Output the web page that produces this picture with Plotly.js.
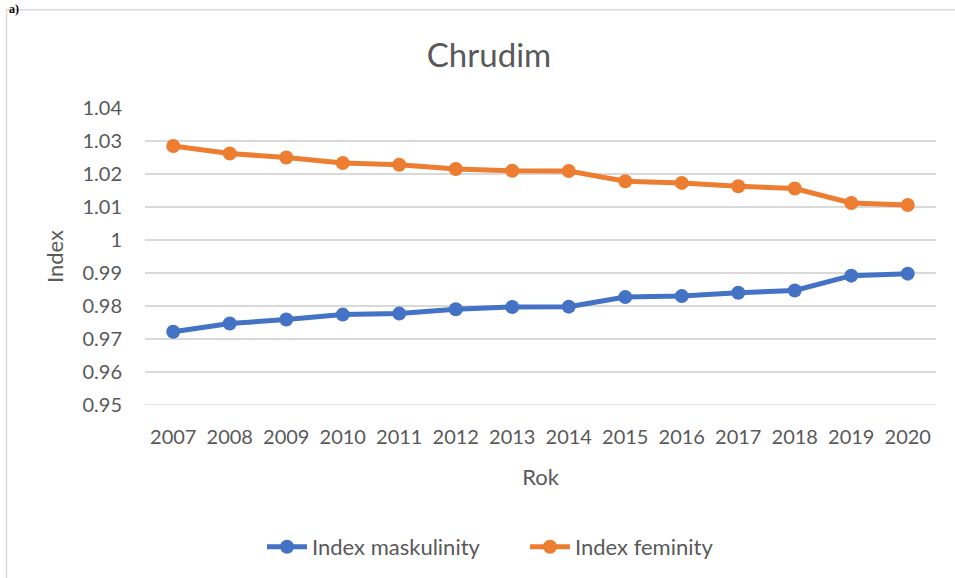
<!DOCTYPE html>
<html>
<head>
<meta charset="utf-8">
<script src="https://cdn.plot.ly/plotly-3.0.1.min.js"></script>
<style>
  html, body { margin: 0; padding: 0; background: #ffffff; }
  #chart { width: 955px; height: 578px; }
</style>
</head>
<body>
<div id="chart"></div>
<script>
var years = ["2007","2008","2009","2010","2011","2012","2013","2014","2015","2016","2017","2018","2019","2020"];
var indexMaskulinity = [0.9722, 0.9747, 0.9759, 0.9774, 0.9777, 0.9790, 0.9797, 0.9798, 0.9827, 0.9830, 0.9840, 0.9847, 0.9892, 0.9898];
var indexFeminity    = [1.0285, 1.0262, 1.0250, 1.0233, 1.0228, 1.0215, 1.0210, 1.0209, 1.0178, 1.0173, 1.0163, 1.0156, 1.0112, 1.0106];
var yTicks = [0.95, 0.96, 0.97, 0.98, 0.99, 1.00, 1.01, 1.02, 1.03, 1.04];
var yTickText = ["0.95","0.96","0.97","0.98","0.99","1","1.01","1.02","1.03","1.04"];
var seriesNames = ["Index maskulinity", "Index feminity"];
var titleText = "Chrudim";

var textColor = "#595959";
var gridColor = "#d9d9d9";
var fontFam = "Lato, 'Open Sans', sans-serif";

var traces = [
  {
    x: years, y: indexMaskulinity, name: seriesNames[0], type: "scatter", mode: "lines+markers",
    line: {color: "#4472C4", width: 5},
    marker: {color: "#4472C4", size: 14}
  },
  {
    x: years, y: indexFeminity, name: seriesNames[1], type: "scatter", mode: "lines+markers",
    line: {color: "#ED7D31", width: 5},
    marker: {color: "#ED7D31", size: 14}
  }
];

var L = 145, R = 19, T = 108, B = 172;
var W = 955, H = 578;
var pw = W - L - R, ph = H - T - B;
function px2x(p) { return (p - L) / pw; }
function py2y(p) { return (H - B - p) / ph; }

var layout = {
  width: W, height: H,
  margin: {l: L, r: R, t: T, b: B},
  paper_bgcolor: "#ffffff",
  plot_bgcolor: "#ffffff",
  font: {family: fontFam, color: textColor, size: 20},
  title: {
    text: titleText,
    font: {family: fontFam, size: 33, color: textColor},
    x: px2x(489), xref: "paper", xanchor: "center",
    y: 1 - 55 / H, yanchor: "middle"
  },
  xaxis: {
    type: "category",
    categoryorder: "array", categoryarray: years,
    range: [-0.5, years.length - 0.5],
    showgrid: false, zeroline: false,
    showline: false,
    ticks: "", ticklabelstandoff: 18,
    tickfont: {family: fontFam, size: 20, color: textColor},
    title: {text: "Rok", font: {family: fontFam, size: 22, color: textColor}, standoff: 22},
    fixedrange: true
  },
  yaxis: {
    range: [0.95, 1.04],
    tickmode: "array", tickvals: yTicks, ticktext: yTickText,
    showgrid: true, gridcolor: gridColor, gridwidth: 1.5,
    zeroline: false, showline: false,
    ticks: "", ticklabelstandoff: 22,
    tickfont: {family: fontFam, size: 20, color: textColor},
    title: {text: "Index", font: {family: fontFam, size: 22, color: textColor}, standoff: 12},
    fixedrange: true
  },
  showlegend: true,
  legend: {
    orientation: "h",
    x: px2x(525), xanchor: "center",
    y: py2y(547), yanchor: "middle",
    font: {family: fontFam, size: 22, color: textColor},
    itemwidth: 40, tracegroupgap: 0,
    entrywidth: 208, entrywidthmode: "pixels",
    bgcolor: "rgba(0,0,0,0)"
  },
  shapes: [
    {type: "line", xref: "paper", yref: "paper", x0: px2x(6), x1: px2x(960), y0: py2y(9.5), y1: py2y(9.5),
     line: {color: gridColor, width: 1.5}},
    {type: "line", xref: "paper", yref: "paper", x0: px2x(6.5), x1: px2x(6.5), y0: py2y(9.5), y1: py2y(590),
     line: {color: gridColor, width: 1.5}},
    {type: "line", xref: "paper", yref: "y", x0: 0, x1: 1, y0: 0.95, y1: 0.95,
     line: {color: gridColor, width: 1.5}, layer: "below"}
  ],
  annotations: [
    {text: "<b>a)</b>", xref: "paper", yref: "paper", x: px2x(7), xanchor: "left",
     y: py2y(0), yanchor: "top", showarrow: false,
     font: {family: "'Liberation Serif', serif", size: 12, color: "#000000"}}
  ]
};

Plotly.newPlot("chart", traces, layout, {displayModeBar: false, staticPlot: true});
</script>
</body>
</html>
